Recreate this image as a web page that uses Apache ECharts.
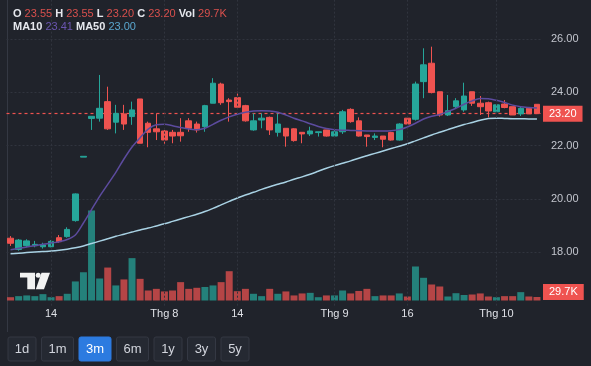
<!DOCTYPE html>
<html><head><meta charset="utf-8">
<script src="https://cdn.jsdelivr.net/npm/echarts/dist/echarts.min.js"></script>
<style>html,body{margin:0;padding:0;background:#20232b}#c{width:591px;height:366px}</style>
</head><body><div id="c"></div>
<script>
const dates = [
 "2025-07-07","2025-07-08","2025-07-09","2025-07-10","2025-07-11",
 "2025-07-14","2025-07-15","2025-07-16","2025-07-17","2025-07-18",
 "2025-07-21","2025-07-22","2025-07-23","2025-07-24","2025-07-25",
 "2025-07-28","2025-07-29","2025-07-30","2025-07-31","2025-08-01",
 "2025-08-04","2025-08-05","2025-08-06","2025-08-07","2025-08-08",
 "2025-08-11","2025-08-12","2025-08-13","2025-08-14","2025-08-15",
 "2025-08-18","2025-08-19","2025-08-20","2025-08-21","2025-08-22",
 "2025-08-25","2025-08-26","2025-08-27","2025-08-28","2025-08-29",
 "2025-09-03","2025-09-04","2025-09-05",
 "2025-09-08","2025-09-09","2025-09-10","2025-09-11","2025-09-12",
 "2025-09-15","2025-09-16","2025-09-17","2025-09-18","2025-09-19",
 "2025-09-22","2025-09-23","2025-09-24","2025-09-25","2025-09-26",
 "2025-09-29","2025-09-30","2025-10-01","2025-10-02","2025-10-03",
 "2025-10-06","2025-10-07","2025-10-08"];
const opens  = [18.53,18.11,18.25,18.25,18.21,18.21,18.55,18.59,19.19,21.57,
 23.02,23.03,23.65,22.88,23.19,23.09,23.75,22.84,22.63,22.55,
 22.50,22.50,22.93,22.81,22.71,23.59,24.31,23.71,23.80,23.50,
 22.59,22.96,23.06,22.50,22.65,22.63,22.50,22.44,22.49,22.59,
 22.36,22.52,23.36,22.93,22.40,22.31,22.36,22.49,22.21,23.03,
 22.99,24.40,25.09,24.02,23.15,23.46,23.34,24.02,23.59,23.61,
 23.27,23.56,23.46,23.19,23.40,23.55];
const highs  = [18.61,18.50,18.49,18.43,18.36,18.46,18.65,18.94,20.21,21.60,
 23.10,24.65,24.21,23.53,23.53,23.65,23.75,22.90,23.21,22.59,
 22.59,23.03,23.03,22.90,23.53,24.53,24.36,23.78,24.02,23.53,
 23.21,23.21,23.09,23.21,22.65,22.65,22.50,22.71,22.52,22.59,
 22.59,23.34,23.40,23.06,22.40,22.46,22.36,22.52,22.84,23.05,
 24.40,25.65,25.71,24.02,23.90,23.78,24.36,24.02,23.86,23.65,
 23.56,23.71,23.46,23.46,23.40,23.55];
const lows   = [18.24,18.06,18.19,18.19,18.14,18.19,18.36,18.55,19.15,21.57,
 22.59,22.90,22.59,22.46,22.59,22.78,22.09,21.94,22.21,22.06,
 22.09,22.15,22.52,22.49,22.52,23.59,23.53,22.90,23.40,22.90,
 22.56,22.65,22.40,22.34,21.96,22.15,22.09,22.36,22.34,22.34,
 22.34,22.44,22.86,22.34,21.96,22.21,21.94,22.19,22.19,22.78,
 22.94,23.78,23.96,23.09,23.11,23.40,23.27,23.49,23.15,23.06,
 23.21,23.40,23.15,23.11,23.19,23.20];
const closes = [18.34,18.46,18.43,18.30,18.28,18.41,18.40,18.86,20.19,21.60,
 23.10,23.40,22.63,23.21,22.81,23.34,22.09,22.50,22.52,22.21,
 22.36,22.37,22.65,22.59,23.50,24.34,23.61,23.65,23.44,22.93,
 22.93,23.03,22.59,22.81,22.36,22.19,22.44,22.55,22.52,22.36,
 22.52,23.27,22.90,22.36,22.34,22.36,22.24,22.21,22.81,22.81,
 24.31,25.03,23.99,23.15,23.31,23.68,23.86,23.59,23.46,23.30,
 23.53,23.43,23.15,23.40,23.19,23.20];
const volumesK = [28,37,43,37,54,28,37,57,162,240,
 765,187,280,128,179,360,184,85,99,77,
 85,156,99,108,115,128,156,249,79,99,
 57,37,99,57,77,43,60,65,28,43,
 43,85,60,81,99,37,43,43,60,34,
 289,193,136,119,34,62,47,51,60,34,
 28,37,37,71,34,29.7];
const ma10 = [18.10,18.15,18.20,18.25,18.30,18.35,18.40,18.48,18.65,19.10,
 19.60,20.10,20.55,21.00,21.50,21.95,22.30,22.62,22.78,22.80,
 22.75,22.68,22.62,22.60,22.65,22.80,22.95,23.08,23.18,23.25,
 23.30,23.31,23.30,23.25,23.15,23.03,22.93,22.82,22.72,22.64,
 22.60,22.58,22.57,22.56,22.55,22.55,22.55,22.56,22.60,22.70,
 22.84,23.00,23.10,23.17,23.28,23.40,23.55,23.68,23.77,23.76,
 23.70,23.62,23.52,23.46,23.43,23.41];
const ma50 = [17.95,17.97,17.99,18.01,18.03,18.05,18.08,18.12,18.17,18.24,
 18.33,18.42,18.51,18.60,18.68,18.76,18.84,18.91,18.99,19.07,
 19.16,19.25,19.34,19.43,19.53,19.65,19.78,19.91,20.04,20.15,
 20.25,20.36,20.46,20.55,20.64,20.74,20.83,20.93,21.04,21.15,
 21.25,21.34,21.43,21.53,21.62,21.71,21.80,21.89,21.98,22.07,
 22.18,22.29,22.40,22.50,22.60,22.70,22.79,22.87,22.95,23.02,
 23.03,23.02,23.01,23.01,23.00,23.00];
const tickDates  = ["2025-07-14","2025-08-01","2025-08-14","2025-09-03","2025-09-16","2025-10-01"];
const tickLabels = ["14","Thg 8","14","Thg 9","16","Thg 10"];
const ranges = ["1d","1m","3m","6m","1y","3y","5y"];
const activeRange = "3m";
const priceMin = 16, priceMax = 27.46, priceStep = 2;

const UP = '#26a69a', DOWN = '#ef5350';
const FONT = "'Liberation Sans', Arial, sans-serif";
const last = dates.length - 1;
const isUp = i => closes[i] > opens[i] || (closes[i] === opens[i] && (i === 0 || closes[i] >= closes[i-1]));
const lastCol = isUp(last) ? UP : DOWN;
const volLabel = v => v >= 1000 ? (v/1000).toFixed(1) + 'M' : v.toFixed(1) + 'K';

const chart = echarts.init(document.getElementById('c'), null, {renderer: 'canvas'});

const legend1 = `{l|O} {r|${opens[last].toFixed(2)}} {l|H} {r|${highs[last].toFixed(2)}} {l|L} {r|${lows[last].toFixed(2)}} {l|C} {r|${closes[last].toFixed(2)}} {l|Vol} {r|${volLabel(volumesK[last])}}`;
const legend2 = `{l|MA10} {p|${ma10[last].toFixed(2)}} {l|MA50} {b|${ma50[last].toFixed(2)}}`;
const rich = {
  l: {fill: '#e6e8ee', fontWeight: 'bold', fontSize: 11, fontFamily: FONT},
  r: {fill: '#d9504d', fontSize: 11, fontFamily: FONT},
  p: {fill: '#6a55b0', fontSize: 11, fontFamily: FONT},
  b: {fill: '#5aa7cf', fontSize: 11, fontFamily: FONT}
};

const mctx = document.createElement('canvas').getContext('2d');
mctx.font = '13px ' + FONT;
const btnGraphics = [];
let bx = 8;
ranges.forEach(r => {
  const w = Math.round(mctx.measureText(r).width + 14);
  const active = r === activeRange;
  btnGraphics.push({
    type: 'group', x: bx, y: 337,
    children: [
      {type: 'rect', shape: {x: 0, y: 0, width: w, height: 24, r: 2},
       style: {fill: active ? '#2c7be0' : '#252932', stroke: active ? '#2c7be0' : '#343843', lineWidth: 1}},
      {type: 'text', style: {text: r, x: w/2, y: 12.5, align: 'center', verticalAlign: 'middle',
        fill: active ? '#ffffff' : '#d1d4dc', font: '13px ' + FONT}}
    ]
  });
  bx += w + 5.5;
});

const option = {
  backgroundColor: '#20232b',
  animation: false,
  grid: [
    {left: 6.5, right: 50, top: 0, bottom: 60.3},
    {left: 6.5, right: 50, top: 200, bottom: 65.5}
  ],
  xAxis: [
    {type: 'category', data: dates, gridIndex: 0, boundaryGap: true,
     axisLine: {show: false}, axisTick: {show: false}, splitLine: {show: false},
     axisLabel: {
       interval: (idx, val) => tickDates.indexOf(val) >= 0,
       formatter: val => tickLabels[tickDates.indexOf(val)],
       color: '#dfe1e7', fontSize: 11, fontFamily: FONT, margin: 3
     }},
    {type: 'category', data: dates, gridIndex: 1, boundaryGap: true, show: false}
  ],
  yAxis: [
    {type: 'value', gridIndex: 0, position: 'right', min: priceMin, max: priceMax, interval: priceStep,
     axisLine: {show: false}, axisTick: {show: false},
     axisLabel: {formatter: v => v.toFixed(2), color: '#c3c6ce', fontSize: 11, fontFamily: FONT,
       margin: 10, showMinLabel: false, showMaxLabel: false},
     splitLine: {showMinLine: false, showMaxLine: false, lineStyle: {color: '#30343e', type: [2, 2], width: 1}}},
    {type: 'value', gridIndex: 1, min: 0, max: 854, show: false, splitLine: {show: false}}
  ],
  graphic: [
    {type: 'line', shape: {x1: 7.5, y1: 0, x2: 7.5, y2: 332}, style: {stroke: '#343843', lineWidth: 1}, z: 0},
    {type: 'text', style: {text: legend1, x: 13, y: 14, verticalAlign: 'middle', rich: rich, font: '11px ' + FONT}, z: 10},
    {type: 'text', style: {text: legend2, x: 13, y: 27, verticalAlign: 'middle', rich: rich, font: '11px ' + FONT}, z: 10},
    {type: 'group', z: 10, children: [
      {type: 'polygon', shape: {points: [[20,272.7],[35,272.7],[35,289.3],[27.3,289.3],[27.3,277.5],[20,277.5]]}, style: {fill: '#f2f2f2'}},
      {type: 'circle', shape: {cx: 38.2, cy: 275.2, r: 2.5}, style: {fill: '#f2f2f2'}},
      {type: 'polygon', shape: {points: [[41.5,272.7],[50,272.7],[44,289.3],[35.8,289.3]]}, style: {fill: '#f2f2f2'}}
    ]}
  ].concat(btnGraphics),
  series: [
    {type: 'line', name: 'vgrid', xAxisIndex: 0, yAxisIndex: 0, data: [], z: 0, silent: true,
     markLine: {silent: true, symbol: ['none', 'none'], label: {show: false},
       lineStyle: {color: '#30343e', type: [2, 2], width: 1},
       data: tickDates.map(d => ({xAxis: dates.indexOf(d)}))}},
    {type: 'bar', name: 'Vol', xAxisIndex: 1, yAxisIndex: 1, barWidth: '86%',
     data: volumesK.map((v, i) => ({value: v, itemStyle: {color: isUp(i) ? 'rgba(38,166,154,0.72)' : 'rgba(239,83,80,0.72)'}})),
     markLine: {silent: true, symbol: ['none', 'none'], lineStyle: {color: 'rgba(0,0,0,0)', width: 0},
       data: [{yAxis: volumesK[last]}],
       label: {show: true, position: 'end', formatter: volLabel(volumesK[last]), backgroundColor: lastCol, color: '#ffffff',
         padding: [3, 6, 2, 6], fontSize: 11, fontFamily: FONT, distance: 2, offset: [0, -5]}}},
    {type: 'candlestick', name: 'Price', xAxisIndex: 0, yAxisIndex: 0, barWidth: '74%', z: 3,
     data: dates.map((d, i) => [opens[i], closes[i], lows[i], highs[i]]),
     itemStyle: {color: UP, color0: DOWN, borderColor: UP, borderColor0: DOWN, borderWidth: 1},
     markLine: {silent: true, symbol: ['none', 'none'], z: 1,
       lineStyle: {color: lastCol, type: [3, 3], width: 1.2, opacity: 1},
       data: [{yAxis: closes[last]}],
       label: {position: 'end', formatter: closes[last].toFixed(2), backgroundColor: lastCol, color: '#ffffff',
         padding: [3, 6, 2, 6], fontSize: 11, fontFamily: FONT, distance: 2}}},
    {type: 'line', name: 'MA10', xAxisIndex: 0, yAxisIndex: 0, data: ma10, symbol: 'none', smooth: 0.3, z: 4,
     lineStyle: {color: '#5c4b9e', width: 1.5}},
    {type: 'line', name: 'MA50', xAxisIndex: 0, yAxisIndex: 0, data: ma50, symbol: 'none', smooth: 0.3, z: 4,
     lineStyle: {color: '#a9d2e4', width: 1.5}}
  ]
};
chart.setOption(option);
</script></body></html>
